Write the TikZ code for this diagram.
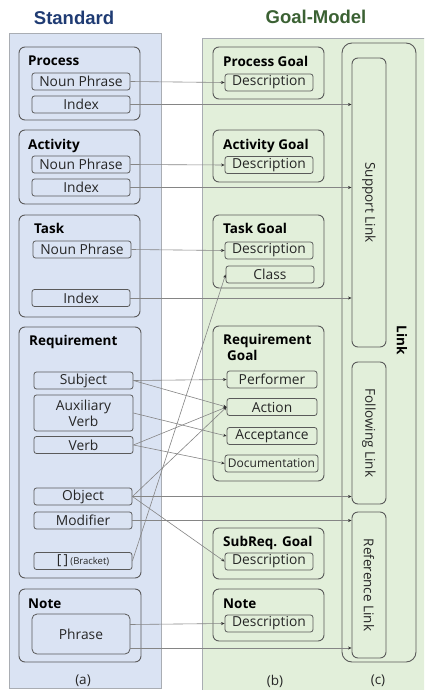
\documentclass[tikz,border=0pt]{standalone}
\usepackage{fontspec}
\setmainfont{Open Sans}
\newfontfamily\headfont{Liberation Sans}
\usetikzlibrary{arrows.meta}

\definecolor{panelblue}{HTML}{DAE3F3}
\definecolor{panelgreen}{HTML}{E2EFDA}
\definecolor{paneledge}{HTML}{A9ADB3}
\definecolor{boxgray}{HTML}{5A5A5A}
\definecolor{linegray}{HTML}{858585}
\definecolor{textdark}{HTML}{262626}
\definecolor{stdblue}{HTML}{1F3B73}
\definecolor{goalgreen}{HTML}{3B6133}

\tikzset{
  group/.style={draw=boxgray, line width=0.9pt, rounded corners=6pt, inner sep=0pt},
  item/.style={draw=boxgray, line width=0.8pt, rounded corners=2.5pt, inner sep=0pt,
    text=textdark, font=\fontsize{13.8}{15}\selectfont},
  lbox/.style={item, minimum width=98pt, minimum height=17pt},
  rbox/.style={item, minimum width=88pt, minimum height=17pt},
  gtitle/.style={anchor=base west, inner sep=0pt, text=black,
    font=\bfseries\fontsize{13.5}{16}\selectfont},
  linkbox/.style={draw=boxgray, line width=0.9pt, rounded corners=6pt, inner sep=0pt,
    minimum width=34pt},
  vlabel/.style={rotate=-90, inner sep=0pt, text=textdark, font=\fontsize{13.5}{15}\selectfont},
  caption/.style={inner sep=0pt, text=textdark, font=\fontsize{13.5}{15}\selectfont},
  conn/.style={draw=linegray, line width=0.6pt,
    -{Stealth[length=3.5pt,width=3pt,color=black!80]}},
}

\begin{document}
\begin{tikzpicture}[x={(1pt,0)}, y={(0,-1pt)}]
\useasboundingbox (0,0) rectangle (424,690);
\clip (0,0) rectangle (424,690);

% panels
\fill[white] (0,0) rectangle (424,690);
\draw[paneledge, fill=panelblue, line width=0.8pt] (9,33) rectangle (161,688);
\draw[paneledge, fill=panelgreen, line width=0.8pt] (202,38) rectangle (430,700);

% headings
\node[font=\headfont\bfseries\fontsize{18.5}{20}\selectfont, text=stdblue] (stdhead) at (74,18) {Standard};
\node[font=\headfont\bfseries\fontsize{18.5}{20}\selectfont, text=goalgreen] (goalhead) at (316,17) {Goal-Model};

% ---------- Standard side ----------
\node[group, minimum width=121pt, minimum height=73pt] (procg) at (79.5,83.5) {};
\node[gtitle] (proct) at (28,66) {Process};
\node[lbox] (pnp) at (81,81.5) {Noun Phrase};
\node[lbox] (pidx) at (81,104.5) {Index};

\node[group, minimum width=121pt, minimum height=74pt] (actg) at (79.5,167) {};
\node[gtitle] (actt) at (28,149) {Activity};
\node[lbox] (anp) at (81,164.5) {Noun Phrase};
\node[lbox] (aidx) at (81,187.5) {Index};

\node[group, minimum width=121pt, minimum height=102pt] (taskg) at (79.5,266) {};
\node[gtitle] (taskt) at (34,233) {Task};
\node[lbox] (tnp) at (82,249.5) {Noun Phrase};
\node[lbox] (tidx) at (81,298) {Index};

\node[group, minimum width=122pt, minimum height=251pt] (reqg) at (80,452.5) {};
\node[gtitle] (reqt) at (29,345) {Requirement};
\node[lbox, minimum width=99pt] (subj) at (83.5,380.5) {Subject};
\node[lbox, minimum width=99pt, minimum height=36pt, align=center,
      font=\fontsize{13.8}{16}\selectfont] (aux) at (83.5,413) {Auxiliary\\Verb};
\node[lbox, minimum width=99pt] (verb) at (83.5,445) {Verb};
\node[lbox, minimum width=98pt] (obj) at (83,496.5) {Object};
\node[lbox, minimum width=98pt] (mod) at (83,520.5) {Modifier};
\node[lbox, minimum width=98pt] (brk) at (83,561) {[\,]\,{\fontsize{9.5}{11}\selectfont(Bracket)}};

\node[group, minimum width=122pt, minimum height=73pt] (noteg) at (80,625.5) {};
\node[gtitle] (notet) at (28,608) {Note};
\node[item, rounded corners=5pt, minimum width=98pt, minimum height=40pt] (phrase) at (81,634) {Phrase};

% ---------- Goal-Model side ----------
\node[group, minimum width=111pt, minimum height=52pt] (pgoal) at (268.5,73) {};
\node[gtitle] (pgoalt) at (223,67) {Process Goal};
\node[rbox] (pgd) at (269,82.5) {Description};

\node[group, minimum width=111pt, minimum height=52pt] (agoal) at (268.5,156) {};
\node[gtitle] (agoalt) at (223,149) {Activity Goal};
\node[rbox] (agd) at (269,165) {Description};

\node[group, minimum width=111pt, minimum height=73pt] (tgoal) at (268.5,251.5) {};
\node[gtitle] (tgoalt) at (223,233) {Task Goal};
\node[rbox] (tgd) at (269,250.5) {Description};
\node[rbox] (cls) at (270,274.5) {Class};

\node[group, minimum width=111pt, minimum height=155pt] (rgoal) at (268.5,403.5) {};
\node[gtitle, align=left] (rgoalt) at (223,360) {Requirement\\[0pt]\hspace*{4pt}Goal};
\node[rbox, minimum width=90pt] (perf) at (272,379.5) {Performer};
\node[rbox, minimum width=90pt] (act) at (272,407) {Action};
\node[rbox, minimum width=90pt] (acc) at (272,436) {Acceptance};
\node[rbox, minimum width=93pt, font=\fontsize{12}{13}\selectfont] (doc) at (271.5,463.5) {Documentation};

\node[group, minimum width=111pt, minimum height=51pt] (sgoal) at (268.5,553.5) {};
\node[gtitle] (sgoalt) at (223,546) {SubReq. Goal};
\node[rbox] (sgd) at (269,561.5) {Description};

\node[group, minimum width=111pt, minimum height=52pt] (ngoal) at (268.5,615) {};
\node[gtitle] (ngoalt) at (223,608) {Note};
\node[rbox] (ngd) at (269,623.5) {Description};

% ---------- Link column ----------
\node[draw=boxgray, line width=0.9pt, rounded corners=10pt, inner sep=0pt,
      minimum width=74pt, minimum height=619pt] (link) at (379,352.5) {};
\node[rotate=-90, inner sep=0pt, font=\bfseries\fontsize{13.5}{15}\selectfont] (linkt) at (402,340) {Link};
\node[linkbox, minimum height=289pt] (sup) at (369,202.5) {};
\node[vlabel] (supt) at (369,202.5) {Support Link};
\node[linkbox, minimum height=142pt] (fol) at (369,433) {};
\node[vlabel] (folt) at (369,433) {Following Link};
\node[linkbox, minimum height=146pt] (ref) at (369,585) {};
\node[vlabel] (reft) at (369,585) {Reference Link};

% captions
\node[caption] (capa) at (83,681) {(a)};
\node[caption] (capb) at (275,681) {(b)};
\node[caption] (capc) at (378,681) {(c)};

% ---------- connectors ----------
\draw[conn] (pnp.east) -- (pgd.west);
\draw[conn] (pidx.east) -- (sup.west |- pidx.east);
\draw[conn] (anp.east) -- (agd.west);
\draw[conn] (aidx.east) -- (sup.west |- aidx.east);
\draw[conn] (tnp.east) -- (tgd.west);
\draw[conn] (tidx.east) -- (sup.west |- tidx.east);

\draw[conn] (subj.east) -- (perf.west);
\draw[conn] (subj.east) -- (act.west);
\draw[conn] (aux.east) -- (acc.west);
\draw[conn] (verb.east) -- (act.west);
\draw[conn] (verb.east) -- (doc.west);
\draw[conn] (obj.east) -- (act.west);
\draw[conn] (obj.east) -- (fol.west |- obj.east);
\draw[conn] (obj.east) -- (sgd.west);
\draw[conn] (mod.east) -- (ref.west |- mod.east);
\draw[conn] (brk.east) -- (cls.west);

\coordinate (phrup) at (130,624.5);
\coordinate (phrlow) at (130,648);
\draw[conn] (phrup) -- (ngd.west);
\draw[conn] (phrlow) -- (ref.west |- phrlow);
\end{tikzpicture}
\end{document}
